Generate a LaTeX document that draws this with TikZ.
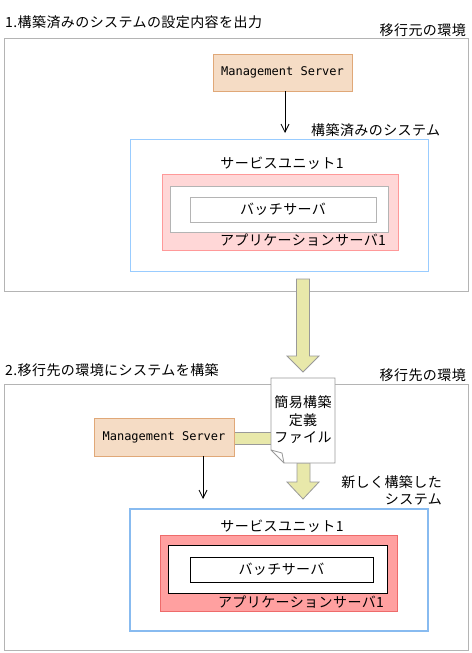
\documentclass[tikz,border=0pt]{standalone}
\usepackage{fontspec}
\setmainfont{Noto Sans CJK JP}[LetterSpace=3]
\newfontfamily\msfont{DejaVu Sans Mono}
\usetikzlibrary{arrows.meta,calc}
\definecolor{outergray}{HTML}{B4B4B4}
\definecolor{msfill}{HTML}{F5DCC5}
\definecolor{msdraw}{HTML}{E0A878}
\definecolor{blueA}{HTML}{99CCFF}
\definecolor{blueB}{HTML}{88BBF0}
\definecolor{pinkAfill}{HTML}{FFD7D7}
\definecolor{pinkAdraw}{HTML}{FF9999}
\definecolor{pinkBfill}{HTML}{FFA0A0}
\definecolor{pinkBdraw}{HTML}{EE6B6B}
\definecolor{yfill}{HTML}{E8E8AA}
\definecolor{ydraw}{HTML}{999999}
\tikzset{
  jp/.style={font=\fontsize{14bp}{17.5bp}\selectfont, inner sep=0pt},
  box/.style={rectangle, inner sep=0pt, line width=0.8bp},
  outerbox/.style={box, draw=outergray},
  msbox/.style={box, draw=msdraw, fill=msfill, font=\msfont\fontsize{12bp}{14bp}\selectfont},
  yshape/.style={draw=ydraw, fill=yfill, line width=0.8bp},
  thinarrow/.style={-{Straight Barb[length=8bp,width=8bp]}, line width=0.8bp},
}
\begin{document}
\begin{tikzpicture}[x=1bp,y=-1bp]
\useasboundingbox (0,0) rectangle (472,653);
% ---------- section 1 ----------
\node[jp, anchor=west] (t1) at (5,22) {1.構築済みのシステムの設定内容を出力};
\node[jp, anchor=east] (env1) at (466,30) {移行元の環境};
\node[outerbox, minimum width=464bp, minimum height=253bp] (outer1) at (236,164.5) {};
\node[msbox, minimum width=139bp, minimum height=37bp] (ms1) at (282.5,72.5) {Management Server};
\node[jp, anchor=west] (sys1) at (311,130) {構築済みのシステム};
\node[box, draw=blueA, minimum width=297.5bp, minimum height=132bp] (blue1) at (279.25,205) {};
\node[jp] (su1) at (282,163) {サービスユニット1};
\node[box, draw=pinkAdraw, fill=pinkAfill, minimum width=236bp, minimum height=76bp] (pink1) at (280,212) {};
\node[box, draw=outergray, fill=white, minimum width=218bp, minimum height=46bp] (inner1) at (279,209) {};
\node[box, draw=outergray, fill=white, minimum width=186bp, minimum height=25bp, jp] (batch1) at (283,209.5) {バッチサーバ};
\node[jp] (app1) at (303,240) {アプリケーションサーバ1};
\coordinate (a1end) at (285,133);
\draw[thinarrow] (ms1.south -| a1end) -- (a1end);
% big yellow arrow between environments
\draw[yshape] (296.5,279) -- (309.5,279) -- (309.5,356) -- (319,356) -- (303,372) -- (287,356) -- (296.5,356) -- cycle;
% ---------- section 2 ----------
\node[jp, anchor=west] (t2) at (5,370) {2.移行先の環境にシステムを構築};
\node[jp, anchor=east] (env2) at (466,375) {移行先の環境};
\node[outerbox, minimum width=464bp, minimum height=266bp] (outer2) at (236,517) {};
% connector MS2 -> doc
\draw[yshape] (234,432) rectangle (271,444);
\node[msbox, minimum width=140bp, minimum height=38bp] (ms2) at (164,437) {Management Server};
% lower yellow arrow
\draw[yshape] (297,463) -- (310,463) -- (310,482) -- (319,482) -- (303,499) -- (287,482) -- (297,482) -- cycle;
% document
\draw[draw=ydraw, fill=white, line width=0.8bp] (271,378) -- (335,378) -- (335,463) -- (284,463) -- (271,450) -- cycle;
\draw[draw=ydraw, line width=0.8bp] (271,450) -- (282,453) -- (284,463);
\node[jp, align=center] (doc) at (303,420) {簡易構築\\定義\\ファイル};
\node[jp, align=right, anchor=east] (sys2) at (442,490.5) {新しく構築した\\システム};
\coordinate (a2end) at (203,499);
\draw[thinarrow] (ms2.south -| a2end) -- (a2end);
\node[box, draw=blueB, line width=2bp, minimum width=298bp, minimum height=122bp] (blue2) at (279,570) {};
\node[jp] (su2) at (282,526) {サービスユニット1};
\node[box, draw=pinkBdraw, fill=pinkBfill, minimum width=237bp, minimum height=76bp] (pink2) at (278.5,573) {};
\node[box, draw=black, fill=white, minimum width=219bp, minimum height=48bp] (inner2) at (277.5,569) {};
\node[box, draw=black, fill=white, minimum width=183bp, minimum height=25bp, jp] (batch2) at (281.5,569.5) {バッチサーバ};
\node[jp] (app2) at (301,602) {アプリケーションサーバ1};
\end{tikzpicture}
\end{document}
